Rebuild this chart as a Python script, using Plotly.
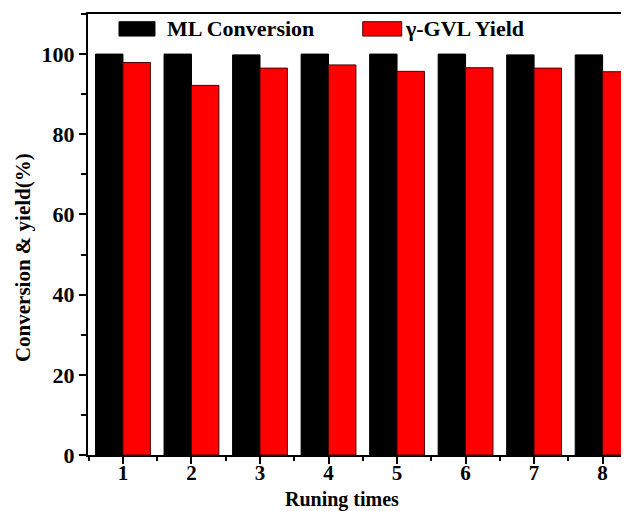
import plotly.graph_objects as go

runs = [1, 2, 3, 4, 5, 6, 7, 8]
ml_conversion = [100.0, 100.0, 99.8, 100.0, 100.0, 100.0, 99.8, 99.8]
gvl_yield = [97.9, 92.2, 96.5, 97.3, 95.7, 96.6, 96.5, 95.6]
y_ticks = [0, 20, 40, 60, 80, 100]

FONT = "Liberation Serif"

fig = go.Figure()
fig.add_trace(go.Bar(x=runs, y=ml_conversion, name="ML Conversion",
                     marker=dict(color="#000000", line=dict(color="#000000", width=1)),
                     showlegend=False))
fig.add_trace(go.Bar(x=runs, y=gvl_yield, name="γ-GVL Yield",
                     marker=dict(color="#FF0000", line=dict(color="#4a0000", width=1)),
                     showlegend=False))

fig.update_layout(
    width=621, height=503,
    margin=dict(l=80, r=0, t=6, b=56),
    plot_bgcolor="white", paper_bgcolor="white",
    barmode="group", bargap=0.2, bargroupgap=0,
    font=dict(family=FONT, color="black"),
    xaxis=dict(
        range=[0.49, 8.385], tickvals=runs, ticktext=[str(r) for r in runs],
        ticks="outside", ticklen=7, tickwidth=2, tickcolor="black",
        ticklabelstandoff=-9,
        showline=True, linecolor="black", linewidth=2, mirror=True,
        showgrid=False, zeroline=False,
        tickfont=dict(family=FONT, size=21, weight="bold", color="black"),
        minor=dict(tick0=0.5, dtick=1, ticks="outside", ticklen=4, tickwidth=2, tickcolor="black"),
    ),
    yaxis=dict(
        range=[0, 110], tickvals=y_ticks,
        ticks="outside", ticklen=7, tickwidth=2, tickcolor="black",
        showline=True, linecolor="black", linewidth=2,
        showgrid=False, zeroline=False,
        tickfont=dict(family=FONT, size=22, weight="bold", color="black"),
        minor=dict(tick0=10, dtick=20, ticks="outside", ticklen=5, tickwidth=2, tickcolor="black"),
    ),
)

# legend drawn with large swatches like the original
fig.add_shape(type="rect", xref="paper", yref="paper", x0=0.0573, x1=0.1238, y0=0.950, y1=0.9825,
              fillcolor="#000000", line=dict(color="#000000", width=1))
fig.add_shape(type="rect", xref="paper", yref="paper", x0=0.5078, x1=0.5799, y0=0.950, y1=0.9825,
              fillcolor="#FF0000", line=dict(color="#4a0000", width=1))
fig.add_annotation(text="ML Conversion", xref="paper", yref="paper", x=0.1420, y=0.966,
                   xanchor="left", yanchor="middle", showarrow=False,
                   font=dict(family=FONT, size=22, weight="bold", color="black"))
fig.add_annotation(text="γ-GVL Yield", xref="paper", yref="paper", x=0.5830, y=0.966,
                   xanchor="left", yanchor="middle", showarrow=False,
                   font=dict(family=FONT, size=22, weight="bold", color="black"))

# axis titles
fig.add_annotation(text="Conversion & yield(%)", xref="paper", yref="paper", x=-0.120, y=0.4467,
                   xanchor="center", yanchor="middle", textangle=-90, showarrow=False,
                   font=dict(family=FONT, size=21, weight="bold", color="black"))
fig.add_annotation(text="Runing times", xref="paper", yref="paper", x=0.4695, y=-0.0998,
                   xanchor="center", yanchor="middle", showarrow=False,
                   font=dict(family=FONT, size=20, weight="bold", color="black"))

fig.write_html("out.html")
